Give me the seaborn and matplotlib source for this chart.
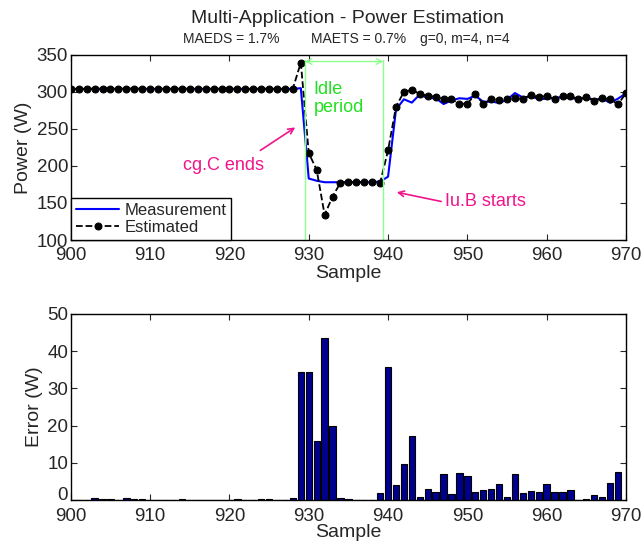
import matplotlib

matplotlib.use("Agg")
import matplotlib.pyplot as plt
import numpy as np
import seaborn as sns

# samples 900..970
samples = list(range(900, 971))

measurement = [304.0] * 29 + [
    305.0, 183.0, 180.0, 178.0, 178.0, 178.0, 178.0, 178.0, 178.0, 178.0,
    179.0, 185.5, 276.0, 290.0, 285.5, 296.5, 291.5, 291.6, 283.6, 288.4,
    291.4, 290.5, 294.9, 286.6, 286.9, 285.2, 289.3, 298.4, 292.4, 293.5,
    290.7, 290.4, 292.2, 292.5, 292.0, 290.1, 292.4, 289.3, 290.8, 285.3,
    290.9, 298.0,
]

estimated = [
    304.0, 304.0, 304.0, 304.5, 304.4, 304.2, 304.0, 304.5, 304.4, 304.2,
    304.0, 304.0, 304.1, 304.1, 304.3, 304.1, 304.0, 304.1, 304.1, 304.1,
    304.0, 304.3, 304.0, 304.0, 304.3, 304.2, 304.0, 304.0, 304.5,
    339.5, 217.5, 194.6, 134.0, 158.5, 177.5, 177.8, 177.9, 178.0, 177.9,
    177.2, 221.0, 280.0, 300.0, 302.7, 297.3, 294.6, 293.7, 290.5, 290.0,
    284.0, 284.0, 297.0, 283.8, 290.0, 289.4, 290.0, 291.5, 290.5, 296.0,
    292.8, 294.6, 290.0, 294.6, 294.6, 290.0, 292.8, 287.8, 291.5, 290.0,
    283.3, 298.2,
]

# error bars, samples 900..969
err_samples = list(range(900, 970))
err_values = [
    0.0, 0.0, 0.0, 0.5, 0.4, 0.2, 0.0, 0.5, 0.4, 0.2,
    0.0, 0.0, 0.1, 0.1, 0.3, 0.1, 0.0, 0.1, 0.1, 0.1,
    0.0, 0.3, 0.0, 0.0, 0.3, 0.2, 0.0, 0.0, 0.5, 34.5,
    34.3, 16.0, 43.5, 20.0, 0.5, 0.2, 0.1, 0.0, 0.1, 1.8,
    35.6, 4.0, 9.8, 17.2, 0.8, 3.1, 2.1, 6.9, 1.6, 7.4,
    6.5, 2.1, 2.8, 3.1, 4.2, 0.7, 6.9, 1.9, 2.5, 2.1,
    4.2, 2.2, 2.1, 2.6, 0.1, 0.4, 1.5, 0.7, 4.7, 7.6,
]

sns.set_style("ticks")
plt.rcParams["font.family"] = ["Liberation Sans", "DejaVu Sans"]

PINK = "#f0148c"
GREEN_TXT = "#22e022"
GREEN_LN = "#8cff8c"
FS = 13.5

fig = plt.figure(figsize=(6.44, 5.43), dpi=100)
ax1 = fig.add_axes([0.110, 0.558, 0.862, 0.341])
ax2 = fig.add_axes([0.110, 0.079, 0.862, 0.343])

# --- top: power estimation
sns.lineplot(x=samples, y=measurement, ax=ax1, color="#0000ff", lw=1.5,
             label="Measurement")
sns.lineplot(x=samples, y=estimated, ax=ax1, color="black", lw=1.3,
             linestyle="--", marker="o", markersize=5,
             markeredgecolor="black", label="Estimated")

ax1.set_xlim(900, 970)
ax1.set_ylim(100, 350)
ax1.set_xticks(np.arange(900, 971, 10))
ax1.set_yticks(np.arange(100, 351, 50))
ax1.set_xlabel("Sample", fontsize=14, labelpad=1)
ax1.set_ylabel("Power (W)", fontsize=14, labelpad=3)

# idle period markers
for xv in (929.5, 939.4):
    ax1.plot([xv, xv], [100, 343], color=GREEN_LN, lw=1)
ax1.annotate("", xy=(929.5, 341), xytext=(939.4, 341),
             arrowprops=dict(arrowstyle="<->", color=GREEN_LN, lw=1,
                             shrinkA=0, shrinkB=0))
ax1.text(930.6, 291, "Idle\nperiod", color=GREEN_TXT, fontsize=13,
         ha="left", va="center", linespacing=1.1)

ax1.annotate("", xy=(928.3, 252), xytext=(923.9, 221),
             arrowprops=dict(arrowstyle="->", color=PINK, lw=1.2,
                             shrinkA=0, shrinkB=0))
ax1.text(914.2, 201, "cg.C ends", color=PINK, fontsize=13,
         ha="left", va="center")
ax1.annotate("", xy=(941.1, 164.5), xytext=(946.7, 152),
             arrowprops=dict(arrowstyle="->", color=PINK, lw=1.2,
                             shrinkA=0, shrinkB=0))
ax1.text(947.2, 152, "Iu.B starts", color=PINK, fontsize=13,
         ha="left", va="center")

leg = ax1.legend(loc="lower left", fontsize=12, fancybox=False,
                 edgecolor="black", framealpha=1, borderaxespad=0,
                 handlelength=2.6, borderpad=0.3, labelspacing=0.15,
                 handletextpad=0.3)
leg.get_frame().set_linewidth(1)

# --- bottom: error
sns.barplot(x=err_samples, y=err_values, ax=ax2, native_scale=True,
            color="#00008f", saturation=1, edgecolor="black", linewidth=0.8,
            width=0.8, errorbar=None)
ax2.set_xlim(900, 970)
ax2.set_ylim(0, 50)
ax2.set_xticks(np.arange(900, 971, 10))
ax2.set_yticks(np.arange(0, 51, 10))
ax2.set_xlabel("Sample", fontsize=14, labelpad=-1)
ax2.set_ylabel("Error (W)", fontsize=14, labelpad=3)

for ax in (ax1, ax2):
    ax.tick_params(direction="in", top=True, right=True, labelsize=FS,
                   length=4, width=0.8, pad=2)
    for sp in ax.spines.values():
        sp.set_visible(True)
        sp.set_color("black")
        sp.set_linewidth(1)
ax1.tick_params(axis="x", pad=5)
ax2.tick_params(axis="x", pad=6)

# lowest y labels sit slightly above their tick, as in the original
ax1.get_yticklabels()[0].set_va("center_baseline")
ax2.get_yticklabels()[0].set_va("baseline")

fig.text(0.54, 0.966, "Multi-Application - Power Estimation",
         ha="center", va="center", fontsize=14)
fig.text(0.359, 0.929, "MAEDS = 1.7%", ha="center", va="center", fontsize=10)
fig.text(0.556, 0.929, "MAETS = 0.7%", ha="center", va="center", fontsize=10)
fig.text(0.721, 0.929, "g=0, m=4, n=4", ha="center", va="center", fontsize=10)

fig.savefig("out.png", dpi=100)
